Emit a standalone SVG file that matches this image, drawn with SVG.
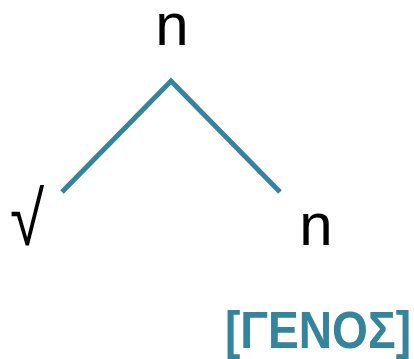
<svg xmlns="http://www.w3.org/2000/svg" width="414" height="359" viewBox="0 0 414 359">
<style>
.lbl{font-family:"Liberation Sans","DejaVu Sans",sans-serif;fill:#000;}
.edge{stroke:#33849C;stroke-width:5;fill:none;}
.feat{font-family:"Liberation Sans","DejaVu Sans",sans-serif;font-weight:bold;fill:#33849C;}
</style>
<rect width="414" height="359" fill="#fff"/>
<g id="connectors">
<polyline class="edge" points="62,192 171,81 280,192"/>
</g>
<g id="node-top"><text class="lbl" x="172" y="45" font-size="60" text-anchor="middle">n</text></g>
<g id="node-root"><text class="lbl" transform="translate(27,245) scale(0.82,1)" font-size="76" text-anchor="middle">√</text></g>
<g id="node-n"><text class="lbl" x="316" y="245" font-size="60" text-anchor="middle">n</text></g>
<g id="feature"><text class="feat" x="318" y="348" font-size="51" text-anchor="middle" textLength="186" lengthAdjust="spacingAndGlyphs">[ΓΕΝΟΣ]</text></g>
</svg>
